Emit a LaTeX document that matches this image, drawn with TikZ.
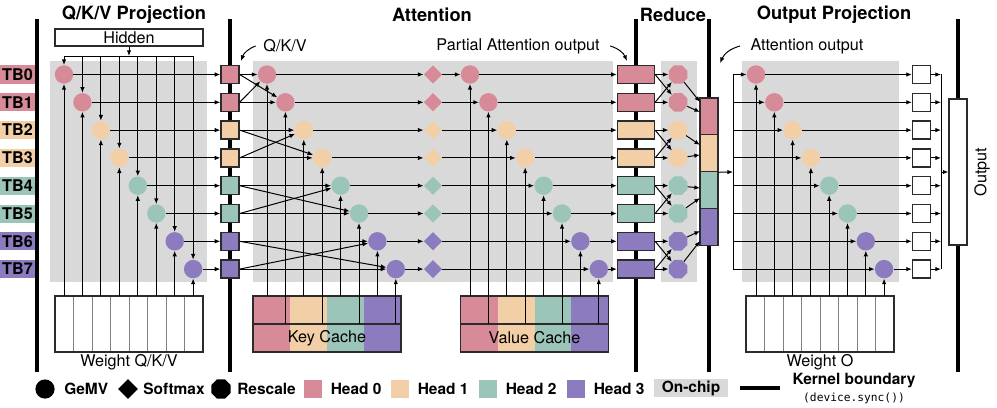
\documentclass[tikz,border=0pt]{standalone}
\usepackage{fontspec}
\setmainfont{TeX Gyre Heros}
\setmonofont{DejaVu Sans Mono}
\usetikzlibrary{arrows.meta,shapes.geometric}

\definecolor{head0}{HTML}{D78A98}
\definecolor{head1}{HTML}{F2CFA6}
\definecolor{head2}{HTML}{9BC5B8}
\definecolor{head3}{HTML}{8C7BBF}
\definecolor{chipgray}{HTML}{D9D9D9}
\definecolor{edge}{HTML}{2B2B2B}

\tikzset{
  kernel/.style={line width=2.2pt},
  link/.style={->, line width=0.7pt},
  bus/.style={line width=0.7pt},
  divider/.style={gray, line width=0.5pt},
  gemv/.style={circle, minimum size=0.46cm, inner sep=0pt},
  softmax/.style={diamond, minimum size=0.46cm, inner sep=0pt},
  rescale/.style={regular polygon, regular polygon sides=8, minimum size=0.5cm, inner sep=0pt},
  qkvbox/.style={draw=edge, line width=0.9pt, minimum size=0.45cm, inner sep=0pt},
  partbox/.style={draw=edge, line width=0.9pt, minimum width=0.925cm, minimum height=0.45cm, inner sep=0pt},
  barbox/.style={draw=edge, line width=0.9pt, minimum width=0.45cm, minimum height=0.919cm, inner sep=0pt},
  weightbox/.style={draw=edge, line width=0.9pt, fill=white, minimum width=3.7cm, minimum height=1.4cm, inner sep=0pt},
  cachebox/.style={draw=edge, line width=0.9pt, minimum width=3.7cm, minimum height=1.4cm, inner sep=0pt},
  tblabel/.style={minimum width=0.875cm, minimum height=0.45cm, inner sep=0pt, font=\fontsize{11.5}{13}\selectfont\bfseries},
  title/.style={font=\fontsize{13}{15}\selectfont\bfseries},
  legtext/.style={anchor=west, inner sep=0pt, font=\fontsize{11}{13}\selectfont\bfseries},
  legbox/.style={minimum size=0.45cm, inner sep=0pt},
}

\begin{document}
\begin{tikzpicture}[x=0.025cm, y=-0.025cm, >={Latex[length=4pt,width=3.2pt]}, font=\fontsize{11.5}{13}\selectfont]
\useasboundingbox (0,0) rectangle (997,407);

% on-chip regions
\fill[chipgray] (50,61) rectangle (207,282);
\fill[chipgray] (253,61) rectangle (613,282);
\fill[chipgray] (661,61) rectangle (697,282);
\fill[chipgray] (742,61) rectangle (899,282);

% kernel boundaries
\foreach \x in {37,230,636,709,958}
  \draw[kernel] (\x,19) -- (\x,372);

% titles
\node[title] (tqkv) at (134,15) {Q/K/V Projection};
\node[title] (tatt) at (432,15) {Attention};
\node[title] (tred) at (673,15) {Reduce};
\node[title] (tout) at (834,15) {Output Projection};

% weights
\node[weightbox] (wqkv) at (129,324) {};
\node[weightbox] (wo) at (820,324) {};
\foreach \k in {1,...,7}{
  \draw[divider] (55+18.5*\k,297) -- (55+18.5*\k,351);
  \draw[divider] (746+18.5*\k,297) -- (746+18.5*\k,351);
}
\node (wqkvtext) at (129,362) {Weight Q/K/V};
\node (wotext) at (820,362) {Weight O};

% caches
\foreach \h in {0,...,3}{
  \fill[head\h] (253+37*\h,296) rectangle +(37,56);
  \fill[head\h] (461+36.75*\h,296) rectangle +(36.75,56);
}
\node[cachebox] (kcache) at (327,324) {};
\node[cachebox] (vcache) at (534.5,324) {};
\draw[edge, line width=0.9pt] (kcache.west) -- (kcache.east);
\draw[edge, line width=0.9pt] (vcache.west) -- (vcache.east);
\node (kctext) at (327,338) {Key Cache};
\node (vctext) at (534.5,338) {Value Cache};

% hidden input
\node[draw=edge, line width=0.9pt, minimum width=3.7cm, minimum height=0.43cm, inner sep=0pt] (hidden) at (129,37.5) {Hidden};
\coordinate (bus) at (129,56);

% rows
\foreach \i in {0,...,7}{
  \pgfmathsetmacro\y{74.5+27.8*\i}
  \pgfmathtruncatemacro\h{\i/2}
  \node[tblabel, fill=head\h] (tb\i) at (17.5,\y) {TB\i};
  \node[gemv, fill=head\h] (p\i) at (64+18.45*\i,\y) {};
  \node[qkvbox, fill=head\h] (s\i) at (230,\y) {};
  \node[gemv, fill=head\h] (k\i) at (267+18.4*\i,\y) {};
  \node[softmax, fill=head\h] (d\i) at (433,\y) {};
  \node[gemv, fill=head\h] (v\i) at (470+18.4*\i,\y) {};
  \node[partbox, fill=head\h] (r\i) at (636,\y) {};
  \node[rescale, fill=head\h] (o\i) at (678,\y) {};
  \node[gemv, fill=head\h] (c\i) at (756+18.3*\i,\y) {};
  \node[qkvbox, fill=white] (w\i) at (921.5,\y) {};
  \coordinate (top\i) at (64+18.45*\i,56);
  \coordinate (wq\i) at (64+18.45*\i,296);
  \pgfmathsetmacro\cy{296+28*mod(\i,2)}
  \coordinate (kc\i) at (267+18.4*\i,\cy);
  \coordinate (vc\i) at (470+18.4*\i,\cy);
  \coordinate (wo\i) at (756+18.3*\i,296);
  \pgfmathsetmacro\ay{102+10*mod(\i,2)+43*\h}
  \coordinate (in\i) at (700,\ay);
  \coordinate (sp\i) at (733,\y);
  \coordinate (j\i) at (941,\y);
}

% reduced attention output
\foreach \h in {0,...,3}
  \node[barbox, fill=head\h] (b\h) at (709,116.5+36.75*\h) {};

% output
\node[draw=edge, line width=0.9pt, fill=white, minimum width=0.45cm, minimum height=3.65cm, inner sep=0pt] (outbox) at (958,172) {};
\node[rotate=90] (outtext) at (982,172) {Output};

% connectors
\draw[link] (hidden) -- (bus);
\draw[bus] (top0) -- (top7);
\foreach \i in {0,...,7}{
  \pgfmathtruncatemacro\p{\i+1-2*mod(\i,2)}
  \draw[link] (top\i) -- (p\i);
  \draw[link] (wq\i) -- (p\i);
  \draw[link] (p\i) -- (s\i);
  \draw[link] (s\i) -- (k\i);
  \draw[link] (s\i.east) -- (k\p);
  \draw[link] (kc\i) -- (k\i);
  \draw[link] (k\i) -- (d\i);
  \draw[link] (d\i) -- (v\i);
  \draw[link] (vc\i) -- (v\i);
  \draw[link] (v\i) -- (r\i);
  \draw[link] (r\i) -- (o\i);
  \draw[link] (r\i.east) -- (o\p);
  \draw[link] (o\i) -- (in\i);
  \draw[link] (sp\i) -- (c\i);
  \draw[link] (wo\i) -- (c\i);
  \draw[link] (c\i) -- (w\i);
  \draw[link] (w\i) -- (j\i);
}
\coordinate (split) at (733,172);
\draw[link] (b1.south east) -- (split);
\draw[bus] (sp0) -- (sp7);
\coordinate (join) at (941,172);
\draw[bus] (j0) -- (j7);
\draw[link] (join) -- (outbox);

% notes
\node (qkvnote) at (285,46) {Q/K/V};
\coordinate (qkvtip) at (241,61);
\draw[link] ([xshift=-2pt]qkvnote.west) to[bend right=25] (qkvtip);
\node (partnote) at (518,46) {Partial Attention output};
\coordinate (parttip) at (627,61);
\draw[link] ([xshift=4pt]partnote.east) to[bend left=25] (parttip);
\node (attnote) at (807,46) {Attention output};
\coordinate (atttip) at (720,63);
\draw[link] ([xshift=-4pt]attnote.west) to[bend right=25] (atttip);

% legend
\node[gemv, fill=black, minimum size=0.48cm] (lgemv) at (45,389) {};
\node[legtext] (tgemv) at (64,389) {GeMV};
\node[softmax, fill=black, minimum size=0.5cm] (lsoft) at (128,389) {};
\node[legtext] (tsoft) at (143,389) {Softmax};
\node[rescale, fill=black, minimum size=0.52cm] (lresc) at (221,389) {};
\node[legtext] (tresc) at (237,389) {Rescale};
\foreach \h/\x in {0/313,1/400,2/488,3/576}{
  \node[legbox, fill=head\h] (lh\h) at (\x,389) {};
  \node[legtext] (th\h) at (\x+17.5,389) {Head \h};
}
\node[fill=chipgray, minimum width=1.85cm, minimum height=0.45cm, inner sep=0pt, font=\fontsize{11}{13}\selectfont\bfseries] (lchip) at (691,388) {On-chip};
\coordinate (lk0) at (740,388);
\coordinate (lk1) at (780,388);
\draw[kernel] (lk0) -- (lk1);
\node[font=\fontsize{11}{13}\selectfont\bfseries] (lkern) at (854,381) {Kernel boundary};
\node[font=\fontsize{8}{10}\selectfont\ttfamily] (lsync) at (854,398) {(device.sync())};
\end{tikzpicture}
\end{document}
